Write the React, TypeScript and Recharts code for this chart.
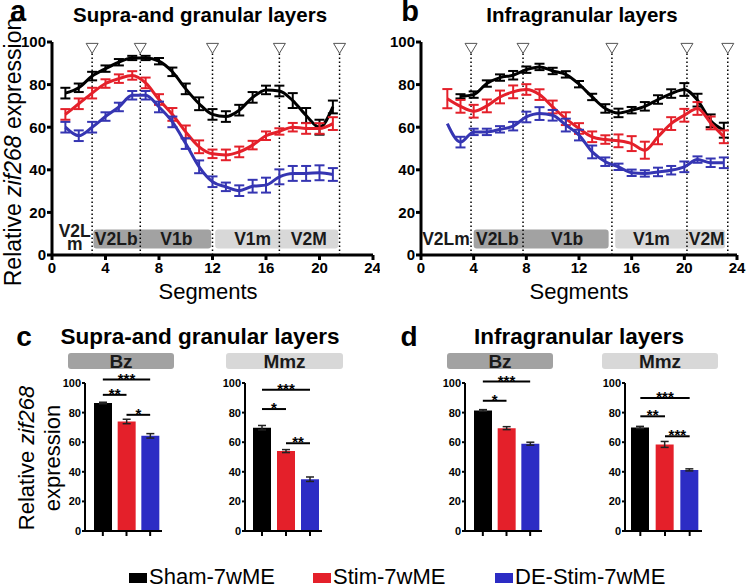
import React from "react";
import {
  LineChart,
  Line,
  XAxis,
  YAxis,
  ErrorBar,
  ReferenceLine,
  ReferenceArea,
  ReferenceDot,
  BarChart,
  Bar,
  Cell,
} from "recharts";

// groups
const groupNames = ["Sham-7wME", "Stim-7wME", "DE-Stim-7wME"];
const lineColors = ["#000000", "#e4202a", "#3535b2"];
const barColors = ["#000000", "#e4202a", "#2c2cc4"];

// panel a: supra- and granular layers, segments 1..21
const segA = [1, 2, 3, 4, 5, 6, 7, 8, 9, 10, 11, 12, 13, 14, 15, 16, 17, 18, 19, 20, 21];
const aSham = [76, 78.5, 84, 87.5, 90.5, 92.5, 92.5, 91, 86, 78, 71, 66, 65, 68, 74, 77.5, 77, 72.5, 65.5, 60, 69.5];
const aShamSem = [2.5, 2, 2, 1.5, 1.5, 1, 1, 1.5, 2, 2.5, 3, 2.5, 2.5, 2.5, 2.5, 2, 2.5, 3.5, 3.5, 3.5, 3];
const aStim = [66, 71, 76, 80.5, 82.8, 84.3, 80.8, 73, 66, 57.8, 50.8, 47.5, 47, 48.4, 51.6, 56, 58, 60, 59.4, 59.4, 61.7];
const aStimSem = [2.5, 2.5, 2.5, 2, 2, 2, 2.5, 2.5, 3, 3, 3, 2, 2.5, 2.5, 2, 2, 1.5, 2, 2.5, 2.5, 3];
const aDe = [60, 56, 60, 65, 69.5, 75, 75, 69.5, 62.5, 52.3, 41.4, 34.4, 32, 30.2, 32.3, 32.8, 36.7, 38.3, 38.3, 38.6, 37.8];
const aDeSem = [2.5, 2.5, 2.5, 2, 2, 2, 2, 2.5, 2.5, 2.5, 3, 2.5, 2, 2.5, 3, 3.5, 3.5, 3.5, 3.5, 3.5, 3];

// panel b: infragranular layers
const segBSham = [3, 4, 5, 6, 7, 8, 9, 10, 11, 12, 13, 14, 15, 16, 17, 18, 19, 20, 21, 22, 23];
const bSham = [74.5, 75.3, 80.5, 83.3, 84.4, 87, 88.3, 86.4, 84.8, 80.2, 74.2, 68.8, 66.7, 68, 69.8, 73, 75.8, 77.7, 72.7, 63, 58.6];
const bShamSem = [1, 1.5, 1.5, 1.5, 2, 1.5, 1.5, 1.5, 1.5, 1.5, 1.5, 2, 2, 1.5, 2, 2, 2, 3, 3, 3, 3.5];
const segB = [2, 3, 4, 5, 6, 7, 8, 9, 10, 11, 12, 13, 14, 15, 16, 17, 18, 19, 20, 21, 22, 23];
const bStim = [73.4, 69.8, 67.5, 70, 74.2, 76.6, 77.7, 75.3, 69.5, 64, 59.4, 55.5, 54.2, 53.6, 52.3, 49.2, 55.5, 61.7, 65.6, 68.8, 62, 55.5];
const bStimSem = [4.5, 3, 3, 3, 3, 3, 2.5, 2.5, 3, 3, 2.5, 2.5, 2, 3, 3.5, 4, 3.5, 3, 3, 3, 3, 3];
const bDe = [61.7, 53, 57.8, 57.8, 59, 60.5, 64.8, 66.4, 65.6, 61, 56.3, 48.4, 43.8, 41.4, 38.6, 38.3, 39, 39.8, 41.4, 44.8, 43.3, 43.3];
const bDeSem = [0, 2.5, 1.5, 1.5, 1.5, 2, 2.5, 3, 2.5, 3, 2.5, 3, 2, 1.5, 1.5, 1.5, 2, 2, 2.5, 1.5, 2, 2.5];

// region boundaries (segments) and zones
const aBounds = [3, 6.6, 12, 17, 21.5];
const bBounds = [3.8, 7.75, 14.5, 20.2, 23.3];
const aZones = [[3.1, 11.9], [12.2, 21.4]];
const bZones = [[4.0, 14.25], [14.75, 23.1]];
const aZoneLabels = [
  { x: 1.7, y: 11.4, text: "V2L" },
  { x: 1.7, y: 5.2, text: "m" },
  { x: 4.8, y: 7.6, text: "V2Lb" },
  { x: 9.3, y: 7.6, text: "V1b" },
  { x: 15, y: 7.6, text: "V1m" },
  { x: 19.2, y: 7.6, text: "V2M" },
];
const bZoneLabels = [
  { x: 1.9, y: 7.6, text: "V2Lm" },
  { x: 5.8, y: 7.6, text: "V2Lb" },
  { x: 11.1, y: 7.6, text: "V1b" },
  { x: 17.5, y: 7.6, text: "V1m" },
  { x: 21.7, y: 7.6, text: "V2M" },
];

// panels c/d: mean per zone
const cBz = [86.5, 74, 64.3];
const cBzSem = [0.5, 1.5, 1.5];
const cMmz = [69.8, 54, 35];
const cMmzSem = [1.5, 1, 1.5];
const dBz = [81.5, 69.5, 59];
const dBzSem = [0.5, 1, 1];
const dMmz = [70, 58.5, 41.3];
const dMmzSem = [0.7, 2, 0.7];

// significance: [from, to, height, stars]
const cBzSig: [number, number, number, string][] = [[0, 2, 102.3, "***"], [0, 1, 92, "**"], [1, 2, 78.5, "*"]];
const cMmzSig: [number, number, number, string][] = [[0, 2, 95.5, "***"], [0, 1, 82.4, "*"], [1, 2, 59.3, "**"]];
const dBzSig: [number, number, number, string][] = [[0, 2, 101, "***"], [0, 1, 88, "*"]];
const dMmzSig: [number, number, number, string][] = [[0, 2, 89.9, "***"], [0, 1, 77.5, "**"], [1, 2, 64, "***"]];

const FONT = "'Liberation Sans', Arial, sans-serif";

const rows = (xs: number[], ys: number[], es: number[]) =>
  xs.map((x, i) => ({ x, y: ys[i], e: es[i] }));

const triangle = (p: any) => (
  <path
    d={`M${p.cx - 6},${p.cy - 5} L${p.cx + 6},${p.cy - 5} L${p.cx},${p.cy + 5} Z`}
    fill="#fff"
    stroke="#555"
    strokeWidth={1}
  />
);

function SegmentChart({ series, bounds, zones, labels, yAxisWidth, width, rightMargin }: any) {
  return (
    <LineChart width={width} height={300} margin={{ top: 42, right: rightMargin, left: 0, bottom: 0 }}>
      <XAxis
        dataKey="x"
        type="number"
        domain={[0, 24]}
        ticks={[0, 4, 8, 12, 16, 20, 24]}
        height={45}
        axisLine={{ stroke: "#000", strokeWidth: 3 }}
        tickLine={{ stroke: "#000", strokeWidth: 3 }}
        tickSize={5}
        tick={{ fill: "#000", fontSize: 15, fontWeight: "bold" }}
        allowDataOverflow
      />
      <YAxis
        type="number"
        domain={[0, 100]}
        ticks={[0, 20, 40, 60, 80, 100]}
        width={yAxisWidth}
        axisLine={{ stroke: "#000", strokeWidth: 3 }}
        tickLine={{ stroke: "#000", strokeWidth: 3 }}
        tickSize={5}
        tickMargin={1}
        tick={{ fill: "#000", fontSize: 15, fontWeight: "bold" }}
      />
      <ReferenceArea x1={zones[0][0]} x2={zones[0][1]} y1={3} y2={12} fill="#a2a2a2" fillOpacity={1} stroke="none" radius={3} />
      <ReferenceArea x1={zones[1][0]} x2={zones[1][1]} y1={3} y2={12} fill="#d8d8d8" fillOpacity={1} stroke="none" radius={3} />
      {labels.map((l: any) => (
        <ReferenceDot
          key={l.text + l.x}
          x={l.x}
          y={l.y}
          r={0}
          shape={(p: any) => (
            <text x={p.cx} y={p.cy} textAnchor="middle" dominantBaseline="central" fontSize={17.5} fontWeight="bold" fill="#1a1a1a">
              {l.text}
            </text>
          )}
        />
      ))}
      {bounds.map((b: number) => (
        <ReferenceLine key={"l" + b} segment={[{ x: b, y: 0 }, { x: b, y: 95 }]} stroke="#000" strokeWidth={1.5} strokeDasharray="1.5 2.5" />
      ))}
      {series.map((s: any, i: number) => (
        <Line
          key={i}
          data={s}
          dataKey="y"
          type="monotone"
          stroke={lineColors[i]}
          strokeWidth={3}
          dot={false}
          isAnimationActive={false}
        >
          <ErrorBar dataKey="e" direction="y" width={5} stroke={lineColors[i]} strokeWidth={2} />
        </Line>
      ))}
      {bounds.map((b: number) => (
        <ReferenceDot key={"t" + b} x={b} y={97} r={0} shape={triangle} />
      ))}
    </LineChart>
  );
}

function BarPanel({ values, sems, sig, padLeft }: any) {
  const data = groupNames.map((name, i) => ({ name, y: values[i], e: sems[i] }));
  return (
    <BarChart width={120} height={200} data={data} margin={{ top: 40, right: 3, left: 0, bottom: 0 }}>
      <XAxis
        dataKey="name"
        height={12}
        padding={{ left: padLeft, right: 0 }}
        tickFormatter={() => ""}
        axisLine={{ stroke: "#000", strokeWidth: 2 }}
        tickLine={{ stroke: "#000", strokeWidth: 2 }}
        tickSize={5}
      />
      <YAxis
        domain={[0, 100]}
        ticks={[0, 20, 40, 60, 80, 100]}
        width={40}
        axisLine={{ stroke: "#000", strokeWidth: 2 }}
        tickLine={{ stroke: "#000", strokeWidth: 2 }}
        tickSize={3}
        tickMargin={1}
        tick={{ fill: "#000", fontSize: 11, fontWeight: "bold" }}
      />
      <Bar dataKey="y" barSize={18} isAnimationActive={false}>
        {data.map((d, i) => (
          <Cell key={d.name} fill={barColors[i]} />
        ))}
        <ErrorBar dataKey="e" direction="y" width={4} stroke="#222" strokeWidth={1.5} />
      </Bar>
      {sig.map(([a, b, h, stars]: any, k: number) => (
        <ReferenceLine
          key={k}
          segment={[{ x: groupNames[a], y: h }, { x: groupNames[b], y: h }]}
          stroke="#000"
          strokeWidth={2}
          ifOverflow="visible"
          label={{ value: stars, position: "top", offset: -4, fontSize: 15, fontWeight: "bold", fill: "#000" }}
        />
      ))}
    </BarChart>
  );
}

const abs = (left: number, top: number, extra: any = {}) => ({ position: "absolute" as const, left, top, ...extra });

function Txt({ x, y, size, bold, children, rotate, lh = 1 }: any) {
  return (
    <div
      style={abs(x, y, {
        transform: `translate(-50%, -50%)${rotate ? " rotate(-90deg)" : ""}`,
        fontSize: size,
        fontWeight: bold ? "bold" : "normal",
        whiteSpace: "nowrap",
        lineHeight: lh,
        color: "#000",
      })}
    >
      {children}
    </div>
  );
}

function ZoneBox({ x, w, y, fill, text }: any) {
  return (
    <div
      style={abs(x, y, {
        width: w,
        height: 16,
        background: fill,
        borderRadius: 3,
        textAlign: "center",
        fontWeight: "bold",
        fontSize: 19,
        lineHeight: "17px",
        color: "#1a1a1a",
      })}
    >
      {text}
    </div>
  );
}

const legendX = [129, 313, 495];

export default function App() {
  const aSeries = [rows(segA, aSham, aShamSem), rows(segA, aStim, aStimSem), rows(segA, aDe, aDeSem)];
  const bSeries = [rows(segBSham, bSham, bShamSem), rows(segB, bStim, bStimSem), rows(segB, bDe, bDeSem)];
  return (
    <div style={abs(0, 0, { width: 750, height: 587, background: "#fff", fontFamily: FONT, overflow: "hidden" })}>
      <div style={abs(0, 0)}>
        <SegmentChart series={aSeries} bounds={aBounds} zones={aZones} labels={aZoneLabels} yAxisWidth={52} width={380} rightMargin={7} />
      </div>
      <div style={abs(370, 0)}>
        <SegmentChart series={bSeries} bounds={bBounds} zones={bZones} labels={bZoneLabels} yAxisWidth={51} width={380} rightMargin={13} />
      </div>

      <Txt x={18} y={12} size={29} bold lh={0.8}>a</Txt>
      <Txt x={200} y={15} size={20.5} bold>Supra-and granular layers</Txt>
      <Txt x={410} y={12} size={29} bold lh={0.8}>b</Txt>
      <Txt x={582} y={15} size={20.5} bold>Infragranular layers</Txt>
      <Txt x={13} y={152} size={23} rotate>
        Relative <i>zif268</i> expression
      </Txt>
      <Txt x={208} y={292} size={22}>Segments</Txt>
      <Txt x={579} y={292} size={22}>Segments</Txt>

      <Txt x={24} y={337} size={28} bold>c</Txt>
      <Txt x={200} y={337} size={22.5} bold>Supra-and granular layers</Txt>
      <Txt x={409} y={337} size={28} bold>d</Txt>
      <Txt x={579} y={337} size={22.5} bold>Infragranular layers</Txt>
      <Txt x={27} y={458} size={22} rotate>
        Relative <i>zif268</i>
      </Txt>
      <Txt x={53} y={458} size={22} rotate>expression</Txt>

      <ZoneBox x={68} w={106} y={353} fill="#a2a2a2" text="Bz" />
      <ZoneBox x={226} w={117} y={353} fill="#d8d8d8" text="Mmz" />
      <ZoneBox x={447} w={106} y={353} fill="#a2a2a2" text="Bz" />
      <ZoneBox x={602} w={116} y={353} fill="#d8d8d8" text="Mmz" />

      <div style={abs(45, 343)}>
        <BarPanel values={cBz} sems={cBzSem} sig={cBzSig} padLeft={6} />
      </div>
      <div style={abs(205, 343)}>
        <BarPanel values={cMmz} sems={cMmzSem} sig={cMmzSig} padLeft={5} />
      </div>
      <div style={abs(425, 343)}>
        <BarPanel values={dBz} sems={dBzSem} sig={dBzSig} padLeft={6} />
      </div>
      <div style={abs(585, 343)}>
        <BarPanel values={dMmz} sems={dMmzSem} sig={dMmzSig} padLeft={3} />
      </div>

      {groupNames.map((name, i) => (
        <div key={name} style={abs(legendX[i], 567, { display: "flex", alignItems: "center", fontSize: 22, lineHeight: "19px", height: 19 })}>
          <span style={{ display: "inline-block", width: 18, height: 10, background: barColors[i], marginRight: 2, marginTop: 2 }} />
          <span>{name}</span>
        </div>
      ))}
    </div>
  );
}
